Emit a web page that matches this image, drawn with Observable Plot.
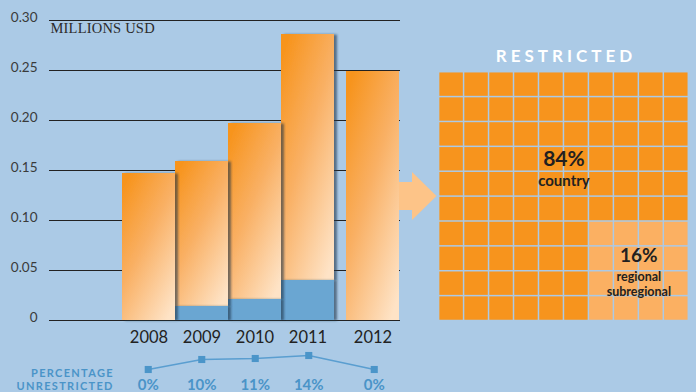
<!DOCTYPE html>
<html><head><meta charset="utf-8">
<script src="https://cdn.jsdelivr.net/npm/d3@7"></script>
<script src="https://cdn.jsdelivr.net/npm/@observablehq/plot@0.6"></script>
<style>
html,body{margin:0;padding:0;background:#abcae6;}
#chart{position:relative;width:696px;height:392px;background:#abcae6;overflow:hidden;}
#chart svg{position:absolute;left:0;top:0;}
</style></head><body><div id="chart"></div>
<script>
// ---- data ----
const years = ["2008", "2009", "2010", "2011", "2012"];
const totals = [0.147, 0.159, 0.197, 0.286, 0.249];          // millions USD, restricted + unrestricted
const unrestricted = [0, 0.014, 0.021, 0.040, 0];            // millions USD, unrestricted part
const pctUnrestricted = [0, 10, 11, 14, 0];                  // percentage unrestricted
const yTicks = [0, 0.05, 0.10, 0.15, 0.20, 0.25, 0.30];
const unitLabel = "MILLIONS USD";
const pctLabel = "PERCENTAGE\nUNRESTRICTED";
const waffleTitle = "RESTRICTED";
const waffleShares = [84, 16];
const waffleLabels = ["country", "regional\nsubregional"];

// ---- styles ----
const W = 696, H = 392;
const numFont = "Lato, 'Open Sans', sans-serif";
const boldFont = "Lato, 'Open Sans', sans-serif";
const ORANGE = "#f7941d", ORANGE_LIGHT = "#fbb062", BLUE = "#6aa6d2", TEXT_BLUE = "#4a94c8", INK = "#231f20";

const rows = years.map((year, i) => ({year, yearNum: +year, total: totals[i], unrestricted: unrestricted[i], pct: pctUnrestricted[i]}));
const joined = rows.slice(0, -1);      // adjoining bars
const separate = rows.slice(-1);       // detached last bar

// segments drawn right-to-left so each bar's shadow falls on its right neighbour
const segments = joined.slice().reverse().flatMap(d => [
  {year: d.year, lo: d.unrestricted, hi: d.total, fill: "url(#barGrad)"},
  {year: d.year, lo: 0, hi: d.unrestricted, fill: BLUE}
]);

const defs = () => {
  const d = d3.create("svg:defs");
  const g = d.append("linearGradient").attr("id", "barGrad")
    .attr("x1", 0.15).attr("y1", 0).attr("x2", 0.85).attr("y2", 1);
  [[0, "#f7941d"], [0.45, "#f9b064"], [1, "#fee3c6"]].forEach(([o, c]) =>
    g.append("stop").attr("offset", o).attr("stop-color", c));
  const f = d.append("filter").attr("id", "barShadow")
    .attr("x", "-20%").attr("y", "-10%").attr("width", "140%").attr("height", "120%");
  f.append("feDropShadow").attr("dx", 3).attr("dy", 0.5).attr("stdDeviation", 1.3)
    .attr("flood-color", "#1f3347").attr("flood-opacity", 0.6);
  return d.node();
};

const arrowSymbol = {
  draw(ctx) {
    ctx.moveTo(22, -14); ctx.lineTo(39, -14); ctx.lineTo(39, -24);
    ctx.lineTo(63.5, 0); ctx.lineTo(39, 24); ctx.lineTo(39, 14);
    ctx.lineTo(22, 14); ctx.closePath();
  }
};

const GAP = 12;

const main = Plot.plot({
  width: W, height: H,
  marginTop: 20, marginBottom: 72, marginLeft: 49, marginRight: 296,
  style: {background: "transparent", overflow: "visible"},
  x: {type: "band", domain: years, range: [121, 388.5], padding: 0, axis: null},
  y: {domain: [0, 0.30], axis: null},
  color: {type: "identity"},
  marks: [
    defs,
    Plot.ruleY(yTicks, {stroke: "#222", strokeWidth: 1.1}),
    Plot.axisY(yTicks, {tickSize: 0, tickPadding: 12, label: null,
      tickFormat: d => d === 0 ? "0" : d.toFixed(2),
      fontSize: 13.5, fontFamily: numFont, color: "#3a3a3a", dy: -2.5}),
    Plot.text([unitLabel], {frameAnchor: "top-left", textAnchor: "start", lineAnchor: "bottom",
      dx: 1, dy: 12.5, fontSize: 14.5, fontFamily: "'Liberation Serif', 'DejaVu Serif', serif",
      fill: "#2b2b2b"}),
    Plot.dot(separate, {x: "year", y: d => d.total / 2, symbol: arrowSymbol, r: 5,
      fill: "#fdc488", dx: GAP}),
    Plot.barY(segments, {x: "year", y1: "lo", y2: "hi", fill: "fill"}),
    Plot.barY(separate, {x: "year", y: "total", fill: "url(#barGrad)", dx: GAP}),
    Plot.text(joined, {x: "year", text: "year", frameAnchor: "bottom", lineAnchor: "bottom",
      dy: 22, fontSize: 16.5, fontFamily: numFont, fill: "#222"}),
    Plot.text(separate, {x: "year", text: "year", frameAnchor: "bottom", lineAnchor: "bottom",
      dy: 22, dx: GAP, fontSize: 16.5, fontFamily: numFont, fill: "#222"})
  ]
});

// waffle
const side = Math.round(Math.sqrt(waffleShares[1]));
const cells = d3.range(100).map(i => {
  const col = i % 10, row = Math.floor(i / 10);
  const k = (row >= 10 - side && col >= 10 - side) ? 1 : 0;
  return {col, row, k};
});
const waffle = Plot.plot({
  width: W, height: H, margin: 0,
  style: {background: "transparent", overflow: "visible"},
  x: {type: "linear", domain: [0, 10], range: [438.6, 688.3], axis: null},
  y: {type: "linear", domain: [0, 10], range: [71.7, 320.5], axis: null},
  color: {type: "identity"},
  marks: [
    Plot.rect(cells, {x1: "col", x2: d => d.col + 1, y1: "row", y2: d => d.row + 1,
      fill: d => d.k ? ORANGE_LIGHT : ORANGE, inset: 0.75}),
    Plot.text([waffleTitle], {x: 5, y: 0, lineAnchor: "bottom", dy: -10, dx: 2,
      fontSize: 17, fontWeight: "bold", fontFamily: boldFont, fill: "white"}),
    Plot.text([waffleShares[0] + "%"], {x: 5, y: 4, lineAnchor: "bottom", dy: -6,
      fontSize: 21, fontWeight: "bold", fontFamily: boldFont, fill: INK}),
    Plot.text([waffleLabels[0]], {x: 5, y: 4, lineAnchor: "top", dy: 3.5,
      fontSize: 15, fontWeight: "bold", fontFamily: boldFont, fill: INK}),
    Plot.text([waffleShares[1] + "%"], {x: 10 - side / 2, y: 10 - side / 2, lineAnchor: "bottom", dy: -9,
      fontSize: 19, fontWeight: "bold", fontFamily: boldFont, fill: INK}),
    Plot.text([waffleLabels[1]], {x: 10 - side / 2, y: 10 - side / 2, lineAnchor: "top", dy: -1,
      lineHeight: 1.2, fontSize: 12.5, fontWeight: "bold", fontFamily: boldFont, fill: INK})
  ]
});

// percentage unrestricted line
const pct = Plot.plot({
  width: W, height: H, marginLeft: 112, marginBottom: 3, marginTop: 0, marginRight: 0,
  style: {background: "transparent", overflow: "visible"},
  x: {type: "linear", domain: [2008, 2011, 2012], range: [147.75, 308.25, 373.75], axis: null},
  y: {domain: [0, 14], range: [369, 355], axis: null},
  marks: [
    Plot.line(rows, {x: "yearNum", y: "pct", stroke: "#5a9ed0", strokeWidth: 1.5}),
    Plot.dot(rows, {x: "yearNum", y: "pct", symbol: "square", r: 4, fill: "#4b95c9"}),
    Plot.text(rows, {x: "yearNum", text: d => d.pct + "%", frameAnchor: "bottom", lineAnchor: "bottom",
      fontSize: 15, fontWeight: "bold", fontFamily: boldFont, fill: TEXT_BLUE}),
    Plot.text([pctLabel], {frameAnchor: "bottom-left", textAnchor: "end", lineAnchor: "bottom",
      lineHeight: 1.18, dx: 1.3, fontSize: 11, fontWeight: "bold", fontFamily: boldFont,
      fill: TEXT_BLUE})
  ]
});

const box = document.getElementById("chart");
box.append(main, waffle, pct);

// bar shadows on the adjoining bars (first bar group)
d3.select(main).selectAll('g[aria-label="bar"]').filter((d, i) => i === 0)
  .selectAll("rect").attr("filter", "url(#barShadow)");
// letter spacing for spaced-out texts
const spacing = (svg, content, ls) => d3.select(svg).selectAll("text")
  .filter(function() { return this.textContent === content; })
  .style("letter-spacing", ls);
spacing(main, unitLabel, "0.2px");
spacing(waffle, waffleTitle, "4px");
spacing(pct, pctLabel.replace("\n", ""), "1.3px");
</script></body></html>
